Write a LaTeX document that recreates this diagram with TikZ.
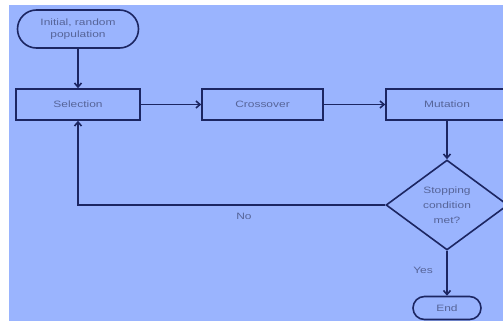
\documentclass[tikz,border=0pt]{standalone}
\usepackage{fontspec}
\usetikzlibrary{shapes.geometric,arrows.meta}
\newfontfamily\widesans[FakeStretch=1.3]{Liberation Sans}
\definecolor{bgblue}{RGB}{154,180,254}
\definecolor{navy}{RGB}{28,38,98}
\definecolor{txtblue}{RGB}{86,100,152}
\tikzset{
  every node/.style={font=\widesans\fontsize{9.2}{12}\selectfont, text=txtblue, inner sep=0pt},
  procbox/.style={draw=navy, line width=1.6pt, fill=bgblue, rectangle, minimum height=31pt},
  termbox/.style={draw=navy, line width=1.6pt, fill=bgblue, rectangle, align=center},
  decbox/.style={draw=navy, line width=1.6pt, fill=bgblue, diamond, aspect=1.36, minimum width=122pt, minimum height=90pt, align=center},
  conn/.style={draw=navy, line width=1.6pt, -{Straight Barb[length=4pt,width=7pt]}},
}
\begin{document}
\begin{tikzpicture}[x=1pt,y=-1pt]
\useasboundingbox (0,0) rectangle (503,321);
\begin{scope}
\clip (0,0) rectangle (503,321);
\fill[bgblue] (9,5) rectangle (503,321);
\node[termbox, minimum width=121pt, minimum height=38pt, rounded corners=19pt] (start) at (78,29) {Initial, random\\population};
\node[procbox, minimum width=124pt] (sel) at (78,104.5) {Selection};
\node[procbox, minimum width=121pt] (cross) at (262.5,104.5) {Crossover};
\node[procbox, minimum width=122pt] (mut) at (447,104.5) {Mutation};
\node[decbox, font=\widesans\fontsize{9.2}{15}\selectfont] (dec) at (447,205) {Stopping\\condition\\met?};
\node[termbox, minimum width=68pt, minimum height=23pt, rounded corners=11.5pt] (end) at (447,308) {End};
\draw[conn] (start) -- (sel);
\draw[conn] (sel) -- (cross);
\draw[conn] (cross) -- (mut);
\draw[conn] (mut) -- (dec);
\draw[conn] (dec.west) -| (sel.south);
\draw[conn] (dec.south) -- (end.north);
\node (no) at (244,216) {No};
\node (yes) at (423,270) {Yes};
\end{scope}
\end{tikzpicture}
\end{document}
